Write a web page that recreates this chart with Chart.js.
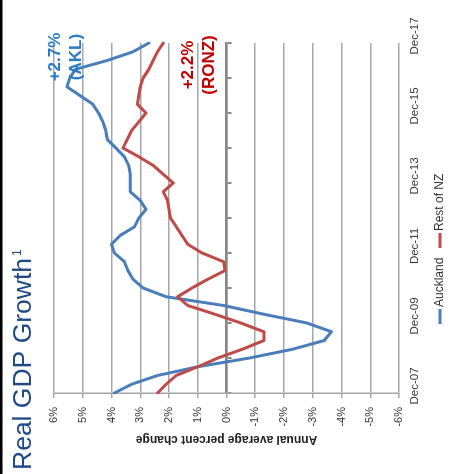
<!DOCTYPE html>
<html>
<head>
<meta charset="utf-8">
<script src="https://cdn.jsdelivr.net/npm/chart.js@4"></script>
<style>
  html, body { margin: 0; padding: 0; background: #fff; width: 453px; height: 474px; overflow: hidden; }
  /* the chart is laid out landscape and turned a quarter-turn anticlockwise */
  #frame { position: absolute; left: 0; top: 0; width: 474px; height: 453px;
           transform-origin: 0 0; transform: translate(0, 474px) rotate(-90deg); }
  canvas { display: block; }
</style>
</head>
<body>
<div id="frame"><canvas id="gdp" width="474" height="453"></canvas></div>
<script>
// Quarterly periods, Dec 2007 to Dec 2017
const quarters = [
  'Dec-07',
  'Mar-08', 'Jun-08', 'Sep-08', 'Dec-08',
  'Mar-09', 'Jun-09', 'Sep-09', 'Dec-09',
  'Mar-10', 'Jun-10', 'Sep-10', 'Dec-10',
  'Mar-11', 'Jun-11', 'Sep-11', 'Dec-11',
  'Mar-12', 'Jun-12', 'Sep-12', 'Dec-12',
  'Mar-13', 'Jun-13', 'Sep-13', 'Dec-13',
  'Mar-14', 'Jun-14', 'Sep-14', 'Dec-14',
  'Mar-15', 'Jun-15', 'Sep-15', 'Dec-15',
  'Mar-16', 'Jun-16', 'Sep-16', 'Dec-16',
  'Mar-17', 'Jun-17', 'Sep-17', 'Dec-17'
];

// Period labels printed along the time axis
const axisLabels = ['Dec-07', 'Dec-09', 'Dec-11', 'Dec-13', 'Dec-15', 'Dec-17'];

// Real GDP, annual average percent change
const auckland = [
  3.9, 3.3, 2.4, 1.0, -0.8, -2.3, -3.4, -3.65, -2.8, -1.3,
  0.1, 2.1, 2.9, 3.25, 3.43, 3.55, 3.9, 4.0, 3.7, 3.2,
  3.05, 2.8, 3.0, 3.35, 3.35, 3.35, 3.4, 3.55, 3.85, 4.15,
  4.2, 4.3, 4.45, 4.65, 5.1, 5.55, 5.45, 5.25, 4.15, 3.25,
  2.7
];
const restOfNZ = [
  2.4, 2.1, 1.75, 1.0, 0.3, -0.55, -1.3, -1.3, -0.5, 0.4,
  1.35, 1.7, 1.2, 0.65, 0.05, 0.1, 0.85, 1.35, 1.55, 1.75,
  1.95, 2.0, 2.05, 2.2, 1.85, 2.2, 2.55, 3.05, 3.6, 3.45,
  3.3, 3.05, 2.8, 3.1, 3.05, 3.0, 2.9, 2.7, 2.55, 2.4,
  2.2
];

// Value axis range (percent)
const valueMin = -6;
const valueMax = 6;

const seriesNames = ['Auckland', 'Rest of NZ'];
const seriesTags = ['AKL', 'RONZ'];
const titleText = 'Real GDP Growth';
const axisTitle = 'Annual average percent change';

const BLUE = '#4A7EBB';
const RED = '#BE4B48';
const BLUE_TEXT = '#2A7BC6';
const RED_TEXT = '#C00000';
const GRID = '#A6A6A6';
const AXIS = '#868686';
const SANS = '"Liberation Sans", Arial, sans-serif';

const fmtChange = v => (v > 0 ? '+' : '') + v.toFixed(1) + '%';

// Title, end-of-series callouts, legend and frame rule
const decorations = {
  id: 'decorations',
  afterDraw(chart) {
    const ctx = chart.ctx;
    const xs = chart.scales.x;
    const lastX = xs.getPixelForValue(quarters.length - 1);
    ctx.save();

    ctx.fillStyle = '#000';
    ctx.fillRect(0, 0, chart.width, 2.5);

    ctx.fillStyle = '#1F4A86';
    ctx.textAlign = 'left';
    ctx.textBaseline = 'alphabetic';
    ctx.font = '26.5px ' + SANS;
    ctx.fillText(titleText, 4, 31);
    const tw = ctx.measureText(titleText).width;
    ctx.font = '12px ' + SANS;
    ctx.fillText('1', 4 + tw + 2, 21);

    ctx.textAlign = 'center';
    ctx.font = 'bold 17px ' + SANS;
    ctx.fillStyle = BLUE_TEXT;
    ctx.fillText(fmtChange(auckland[auckland.length - 1]), lastX - 14, 60);
    ctx.fillText('(' + seriesTags[0] + ')', lastX - 14, 81);
    ctx.fillStyle = RED_TEXT;
    ctx.fillText(fmtChange(restOfNZ[restOfNZ.length - 1]), lastX - 22, 193);
    ctx.fillText('(' + seriesTags[1] + ')', lastX - 22, 214);

    // legend
    const ly = 440;
    ctx.lineWidth = 3;
    ctx.lineCap = 'butt';
    ctx.font = '12px ' + SANS;
    ctx.textAlign = 'left';
    ctx.textBaseline = 'middle';
    ctx.strokeStyle = BLUE;
    ctx.beginPath(); ctx.moveTo(150, ly); ctx.lineTo(165, ly); ctx.stroke();
    ctx.fillStyle = '#333';
    ctx.fillText(seriesNames[0], 167, ly);
    ctx.strokeStyle = RED;
    ctx.beginPath(); ctx.moveTo(226, ly); ctx.lineTo(241, ly); ctx.stroke();
    ctx.fillText(seriesNames[1], 243, ly);

    ctx.restore();
  }
};

new Chart(document.getElementById('gdp'), {
  type: 'line',
  data: {
    labels: quarters,
    datasets: [
      { label: seriesNames[0], data: auckland, borderColor: BLUE, borderWidth: 3,
        pointRadius: 0, tension: 0, borderJoinStyle: 'round', borderCapStyle: 'round', order: 1 },
      { label: seriesNames[1], data: restOfNZ, borderColor: RED, borderWidth: 3,
        pointRadius: 0, tension: 0, borderJoinStyle: 'round', borderCapStyle: 'round', order: 0 }
    ]
  },
  options: {
    responsive: false,
    animation: false,
    events: [],
    layout: { padding: { top: 54, right: 43, bottom: 0, left: 0 } },
    plugins: { legend: { display: false }, tooltip: { enabled: false }, title: { display: false } },
    scales: {
      x: {
        type: 'category',
        position: 'bottom',
        grid: { display: false, drawTicks: false, tickLength: 0 },
        border: { display: false },
        ticks: {
          autoSkip: false, maxRotation: 0, minRotation: 0, labelOffset: 7, padding: 9,
          color: '#333', font: { family: SANS, size: 11.5 },
          callback(v) { const l = this.getLabelForValue(v); return axisLabels.includes(l) ? l : ''; }
        },
        afterFit(s) { s.height = 54; }
      },
      x0: {
        type: 'category',
        axis: 'x',
        position: { y: 0 },
        ticks: { display: false, autoSkip: false },
        grid: {
          drawOnChartArea: false, drawTicks: true, tickLength: 4, lineWidth: 2,
          color: c => (c.index % 4 === 0 ? AXIS : 'rgba(0,0,0,0)')
        },
        border: { display: true, color: AXIS, width: 2.5 }
      },
      y: {
        min: valueMin, max: valueMax,
        ticks: { stepSize: 1, padding: 9, color: '#333', font: { family: SANS, size: 11 },
                 callback: v => v + '%' },
        grid: { color: GRID, lineWidth: 1.5, tickLength: 5, drawTicks: true },
        border: { display: true, color: GRID, width: 1.5 },
        title: { display: true, text: axisTitle, color: '#222',
                 font: { family: SANS, size: 12, weight: 'bold' }, padding: { top: 27, bottom: 0 } },
        afterFit(s) { s.width = 81; }
      }
    }
  },
  plugins: [decorations]
});
</script>
</body>
</html>
